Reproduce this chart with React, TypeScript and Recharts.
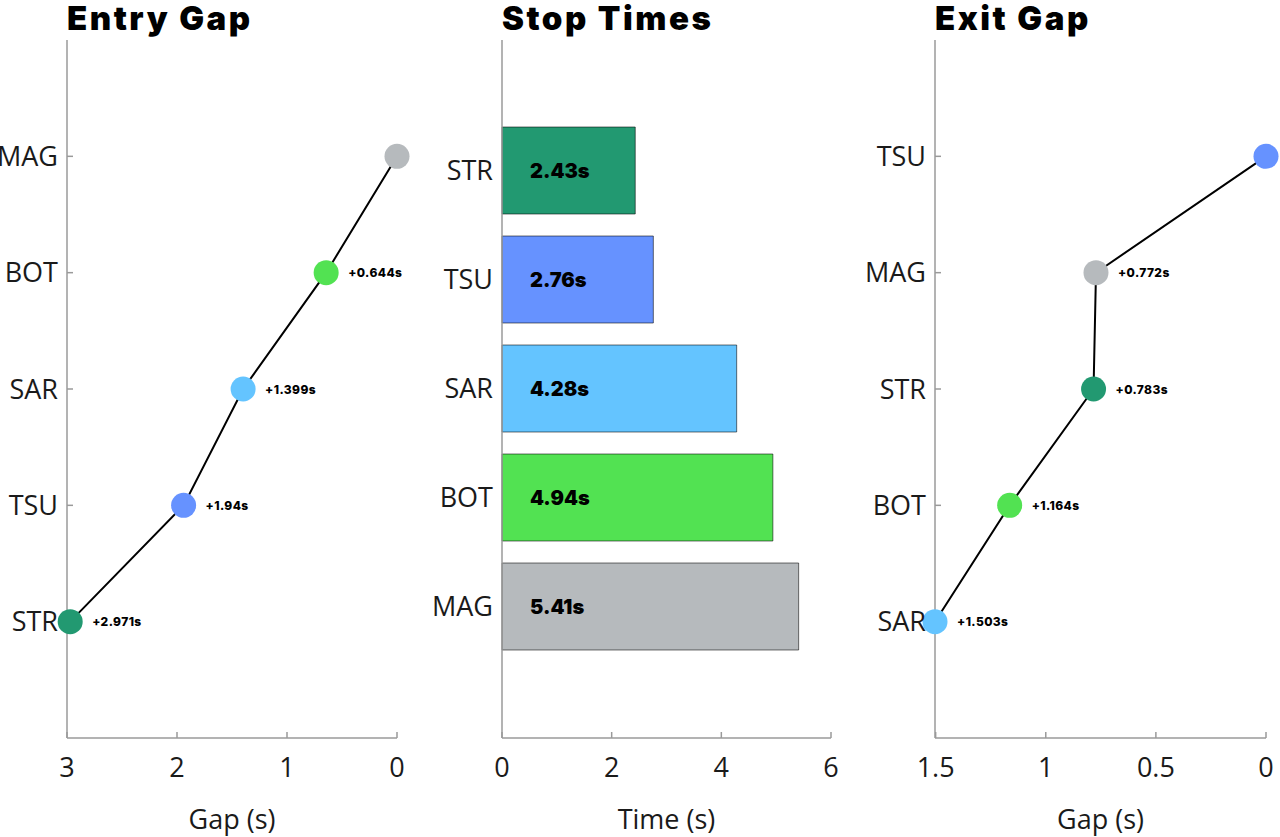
import React from "react";
import { ScatterChart, Scatter, BarChart, Bar, XAxis, YAxis, Cell, LabelList } from "recharts";

const entryDrivers = ["MAG", "BOT", "SAR", "TSU", "STR"];
const entryGaps = [0, 0.644, 1.399, 1.94, 2.971];
const entryTicks = [0, 1, 2, 3];

const stopDrivers = ["STR", "TSU", "SAR", "BOT", "MAG"];
const stopTimes = [2.43, 2.76, 4.28, 4.94, 5.41];
const stopTicks = [0, 2, 4, 6];

const exitDrivers = ["TSU", "MAG", "STR", "BOT", "SAR"];
const exitGaps = [0, 0.772, 0.783, 1.164, 1.503];
const exitTicks = [0, 0.5, 1, 1.5];

const teamColors: Record<string, string> = {
  STR: "#229971",
  TSU: "#6692FF",
  SAR: "#64C4FF",
  BOT: "#52E252",
  MAG: "#B6BABD",
};

const AXIS = "#9a9a9a";
const TICK_FONT = { fontSize: 27, fill: "#1a1a1a", fontFamily: "Open Sans" };
const HEAVY = "Inter";

function toPoints(drivers: string[], gaps: number[]) {
  return drivers.map((d, i) => ({
    name: d,
    x: gaps[i],
    y: drivers.length - i,
    color: teamColors[d],
    label: gaps[i] > 0 ? `+${gaps[i]}s` : "",
  }));
}

const Dot = (props: any) => {
  const { cx, cy, payload } = props;
  return (
    <g>
      <circle cx={cx} cy={cy} r={12.5} fill={payload.color} />
      {payload.label && (
        <text x={cx + 22} y={cy} dominantBaseline="central" fontSize={12} fontWeight={800} fontFamily={HEAVY} letterSpacing={0.4} fill="#000">
          {payload.label}
        </text>
      )}
    </g>
  );
};

function GapPanel({ drivers, gaps, ticks, max, yAxisWidth, right }: any) {
  const data = toPoints(drivers, gaps);
  return (
    <ScatterChart width={430} height={837} margin={{ top: 40, right, left: 0, bottom: 0 }}>
      <XAxis
        type="number"
        dataKey="x"
        domain={[0, max]}
        ticks={ticks}
        reversed
        height={99}
        stroke={AXIS}
        strokeWidth={1.5}
        tickSize={-6}
        tickMargin={26}
        tick={TICK_FONT}
        label={{ value: "Gap (s)", position: "insideBottom", offset: 8, style: { ...TICK_FONT, textAnchor: "middle" } }}
      />
      <YAxis
        type="number"
        dataKey="y"
        domain={[0, 6]}
        ticks={[1, 2, 3, 4, 5]}
        tickFormatter={(v: number) => drivers[drivers.length - v]}
        width={yAxisWidth}
        stroke={AXIS}
        strokeWidth={1.5}
        tickSize={-6}
        tickMargin={15}
        tick={TICK_FONT}
      />
      <Scatter
        data={data}
        line={{ stroke: "#000", strokeWidth: 2 }}
        shape={Dot}
        isAnimationActive={false}
      />
    </ScatterChart>
  );
}

const BarLabel = (props: any) => {
  const { x, y, height, value } = props;
  return (
    <text x={x + 28} y={y + height / 2} dominantBaseline="central" fontSize={20} fontWeight={900} fontFamily={HEAVY} fill="#000">
      {`${value}s`}
    </text>
  );
};

function StopPanel() {
  const data = stopDrivers.map((d, i) => ({ name: d, time: stopTimes[i] }));
  return (
    <BarChart layout="vertical" width={430} height={837} data={data} barSize={87} margin={{ top: 40, right: 29, left: 0, bottom: 0 }}>
      <XAxis
        type="number"
        dataKey="time"
        domain={[0, 6]}
        ticks={stopTicks}
        height={99}
        stroke={AXIS}
        strokeWidth={1.5}
        tickSize={-6}
        tickMargin={26}
        tick={TICK_FONT}
        label={{ value: "Time (s)", position: "insideBottom", offset: 8, style: { ...TICK_FONT, textAnchor: "middle" } }}
      />
      <YAxis
        type="category"
        dataKey="name"
        width={72}
        padding={{ top: 76, bottom: 77 }}
        stroke={AXIS}
        strokeWidth={1.5}
        tickLine={false}
        tickSize={0}
        tickMargin={9}
        tick={TICK_FONT}
      />
      <Bar dataKey="time" isAnimationActive={false} stroke="rgba(0,0,0,0.55)" strokeWidth={1}>
        {data.map((d) => (
          <Cell key={d.name} fill={teamColors[d.name]} />
        ))}
        <LabelList dataKey="time" content={BarLabel} />
      </Bar>
    </BarChart>
  );
}

const titleStyle: React.CSSProperties = {
  position: "absolute",
  top: 0,
  fontFamily: HEAVY,
  fontWeight: 900,
  fontSize: 33,
  lineHeight: "36px",
  color: "#000",
  letterSpacing: 2.5,
  whiteSpace: "nowrap",
};

export default function App() {
  return (
    <div style={{ position: "absolute", left: 0, top: 0, width: 1280, height: 837, background: "#fff", overflow: "hidden" }}>
      <div style={{ position: "absolute", left: 0, top: 0 }}>
        <GapPanel drivers={entryDrivers} gaps={entryGaps} ticks={entryTicks} max={3} yAxisWidth={67} right={33} />
      </div>
      <div style={{ position: "absolute", left: 430, top: 0 }}>
        <StopPanel />
      </div>
      <div style={{ position: "absolute", left: 860, top: 0 }}>
        <GapPanel drivers={exitDrivers} gaps={exitGaps} ticks={exitTicks} max={1.5} yAxisWidth={75} right={24} />
      </div>
      <div style={{ ...titleStyle, left: 67 }}>Entry Gap</div>
      <div style={{ ...titleStyle, left: 502 }}>Stop Times</div>
      <div style={{ ...titleStyle, left: 935 }}>Exit Gap</div>
    </div>
  );
}
